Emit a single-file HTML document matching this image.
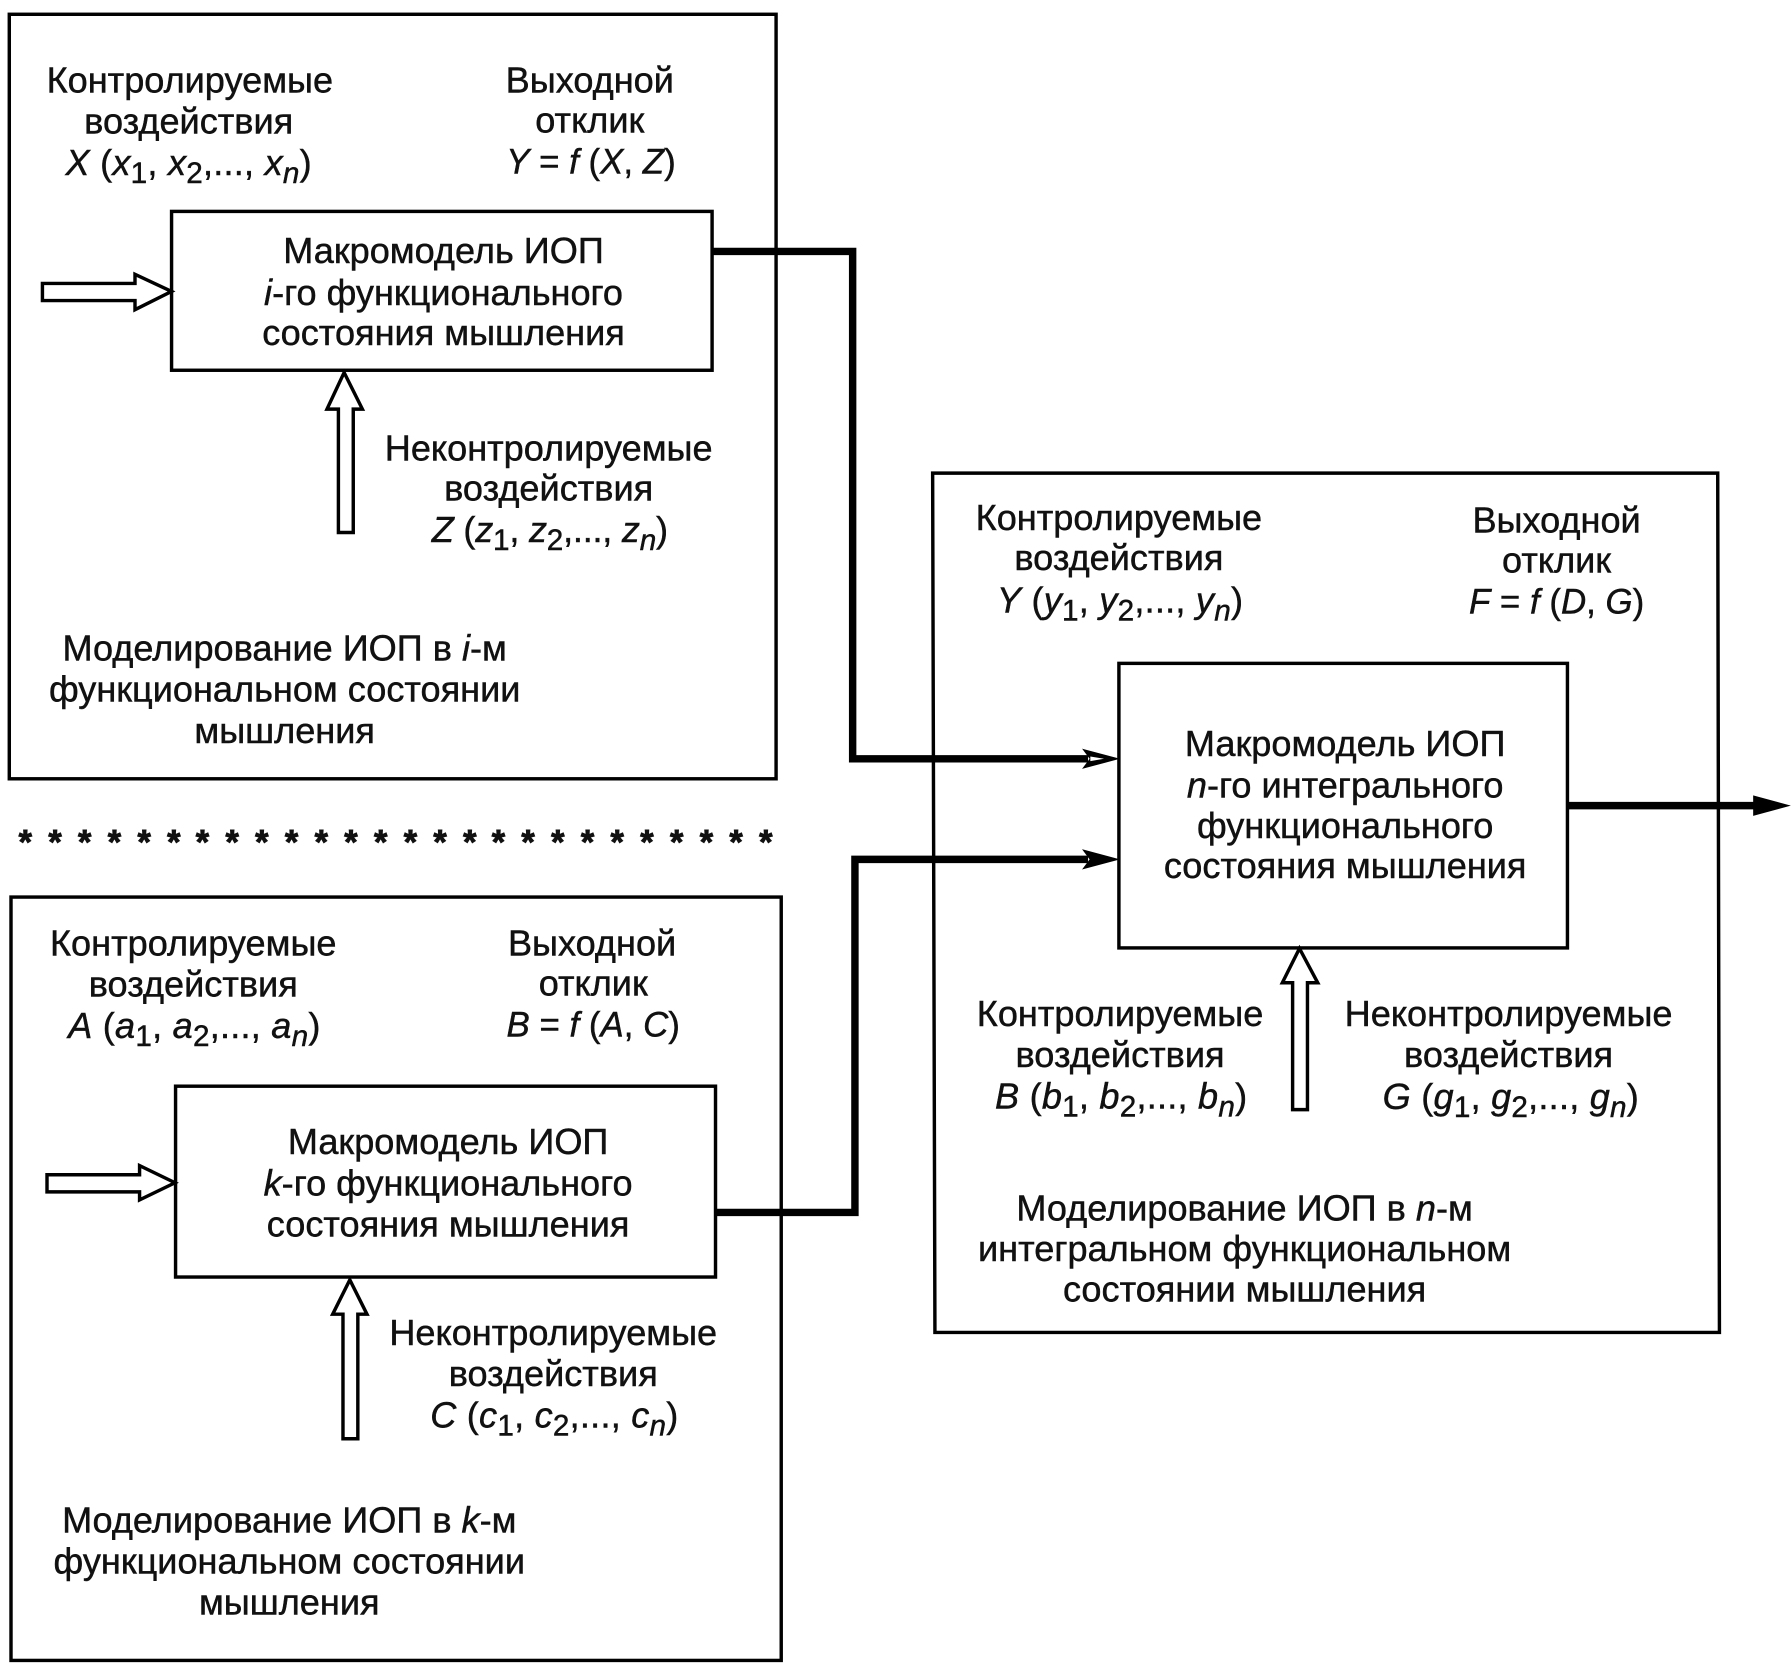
<!DOCTYPE html>
<html lang="ru"><head><meta charset="utf-8"><title>Макромодель ИОП</title>
<style>
html,body{margin:0;padding:0;background:#fff}
svg{display:block}
text{font-family:"Liberation Sans",sans-serif;font-size:31.6px;fill:#111;text-anchor:middle;stroke:#111;stroke-width:.4px}
.i{font-style:italic}
.s{font-size:26px}
.f{letter-spacing:.2px}
.z{letter-spacing:-.2px}
.g{font-size:30.5px}
.st{font-size:30px;font-weight:bold;stroke-width:.8px}
.b{fill:none;stroke:#000;stroke-width:3}
.t{fill:none;stroke:#000;stroke-width:6.5;stroke-linejoin:miter}
.h{fill:#fff;stroke:#000;stroke-width:3;stroke-linejoin:miter}
</style></head><body>
<svg xmlns="http://www.w3.org/2000/svg" width="1791" height="1665" viewBox="0 0 1567 1457">
<rect width="1567" height="1457" fill="#fff"/>
<rect class="b" x="8" y="12.500" width="671" height="669"/>
<rect class="b" x="9.500" y="785" width="674" height="668"/>
<polygon class="b" points="816,414 1503,414 1504.500,1166 818,1166"/>
<rect class="b" x="150" y="185" width="473" height="139"/>
<rect class="b" x="153.500" y="950.500" width="472.500" height="167"/>
<rect class="b" x="979" y="580.500" width="392.500" height="249"/>

<polyline class="t" points="623,220 746,220 746,664 952,664"/>
<polyline class="t" points="626,1061 748,1061 748,752 952,752"/>
<line class="t" x1="1372" y1="705" x2="1540" y2="705"/>
<polygon points="948,656 978,664 948,672 954,664" fill="#000" stroke="#000"/>
<polygon points="954,662 966,664 954,666" fill="#fff"/>
<polygon points="948,744 978,752 948,760 954,752" fill="#000" stroke="#000"/>
<polygon points="1534,696 1567,705 1534,714" fill="#000"/>

<polygon class="h" points="37,248 118,248 118,240 150,255 118,271 118,263 37,263"/>
<polygon class="h" points="41,1028 122,1028 122,1020 153,1035 122,1050 122,1043 41,1043"/>
<polygon class="h" points="296,466 296,358 286,358 301,326 317,358 309,358 309,466"/>
<polygon class="h" points="300,1259 300,1150 291,1150 306,1120 321,1150 313,1150 313,1259"/>
<polygon class="h" points="1131,971 1131,860 1122,860 1137,830 1153,860 1144,860 1144,971"/>

<!-- Box 1 -->
<text x="166" y="81">Контролируемые</text>
<text x="165" y="117">воздействия</text>
<text class="f" x="165" y="153"><tspan class="i">X</tspan> (<tspan class="i">x</tspan><tspan class="s" dy="7">1</tspan><tspan dy="-7">, </tspan><tspan class="i">x</tspan><tspan class="s" dy="7">2</tspan><tspan dy="-7">,..., </tspan><tspan class="i">x</tspan><tspan class="s i" dy="7">n</tspan><tspan dy="-7">)</tspan></text>
<text x="516" y="81">Выходной</text>
<text x="516" y="116">отклик</text>
<text class="g" x="517" y="152"><tspan class="i">Y</tspan> = <tspan class="i">f</tspan> (<tspan class="i">X</tspan>, <tspan class="i">Z</tspan>)</text>
<text x="388" y="230">Макромодель ИОП</text>
<text x="388" y="267"><tspan class="i">i</tspan>-го функционального</text>
<text x="388" y="302">состояния мышления</text>
<text x="480" y="403">Неконтролируемые</text>
<text x="480" y="438">воздействия</text>
<text class="z" x="481" y="474.500"><tspan class="i">Z</tspan> (<tspan class="i">z</tspan><tspan class="s" dy="7">1</tspan><tspan dy="-7">, </tspan><tspan class="i">z</tspan><tspan class="s" dy="7">2</tspan><tspan dy="-7">,..., </tspan><tspan class="i">z</tspan><tspan class="s i" dy="7">n</tspan><tspan dy="-7">)</tspan></text>
<text x="249" y="578">Моделирование ИОП в <tspan class="i">i</tspan>-м</text>
<text x="249" y="614">функциональном состоянии</text>
<text x="249" y="650">мышления</text>

<!-- Stars -->
<text class="st" x="22" y="747">*</text><text class="st" x="48" y="747">*</text><text class="st" x="74" y="747">*</text><text class="st" x="100" y="747">*</text><text class="st" x="126" y="747">*</text><text class="st" x="152" y="747">*</text><text class="st" x="177" y="747">*</text><text class="st" x="203" y="747">*</text><text class="st" x="229" y="747">*</text><text class="st" x="255" y="747">*</text><text class="st" x="281" y="747">*</text><text class="st" x="307" y="747">*</text><text class="st" x="333" y="747">*</text><text class="st" x="359" y="747">*</text><text class="st" x="385" y="747">*</text><text class="st" x="411" y="747">*</text><text class="st" x="436" y="747">*</text><text class="st" x="462" y="747">*</text><text class="st" x="488" y="747">*</text><text class="st" x="514" y="747">*</text><text class="st" x="540" y="747">*</text><text class="st" x="566" y="747">*</text><text class="st" x="592" y="747">*</text><text class="st" x="618" y="747">*</text><text class="st" x="644" y="747">*</text><text class="st" x="670" y="747">*</text>

<!-- Box 2 -->
<text x="169" y="836">Контролируемые</text>
<text x="169" y="872">воздействия</text>
<text class="f" x="170" y="908.500"><tspan class="i">A</tspan> (<tspan class="i">a</tspan><tspan class="s" dy="7">1</tspan><tspan dy="-7">, </tspan><tspan class="i">a</tspan><tspan class="s" dy="7">2</tspan><tspan dy="-7">,..., </tspan><tspan class="i">a</tspan><tspan class="s i" dy="7">n</tspan><tspan dy="-7">)</tspan></text>
<text x="518" y="836">Выходной</text>
<text x="519" y="871">отклик</text>
<text class="g" x="519" y="907"><tspan class="i">B</tspan> = <tspan class="i">f</tspan> (<tspan class="i">A</tspan>, <tspan class="i">C</tspan>)</text>
<text x="392" y="1010">Макромодель ИОП</text>
<text x="392" y="1046"><tspan class="i">k</tspan>-го функционального</text>
<text x="392" y="1082">состояния мышления</text>
<text x="484" y="1177">Неконтролируемые</text>
<text x="484" y="1213">воздействия</text>
<text class="f" x="485" y="1249"><tspan class="i">C</tspan> (<tspan class="i">c</tspan><tspan class="s" dy="7">1</tspan><tspan dy="-7">, </tspan><tspan class="i">c</tspan><tspan class="s" dy="7">2</tspan><tspan dy="-7">,..., </tspan><tspan class="i">c</tspan><tspan class="s i" dy="7">n</tspan><tspan dy="-7">)</tspan></text>
<text x="253" y="1341">Моделирование ИОП в <tspan class="i">k</tspan>-м</text>
<text x="253" y="1377">функциональном состоянии</text>
<text x="253" y="1413">мышления</text>

<!-- Box 3 -->
<text x="979" y="464">Контролируемые</text>
<text x="979" y="499">воздействия</text>
<text class="f" x="980" y="536"><tspan class="i">Y</tspan> (<tspan class="i">y</tspan><tspan class="s" dy="7">1</tspan><tspan dy="-7">, </tspan><tspan class="i">y</tspan><tspan class="s" dy="7">2</tspan><tspan dy="-7">,..., </tspan><tspan class="i">y</tspan><tspan class="s i" dy="7">n</tspan><tspan dy="-7">)</tspan></text>
<text x="1362" y="466">Выходной</text>
<text x="1362" y="501">отклик</text>
<text class="g" x="1362" y="537"><tspan class="i">F</tspan> = <tspan class="i">f</tspan> (<tspan class="i">D</tspan>, <tspan class="i">G</tspan>)</text>
<text x="1177" y="661.500">Макромодель ИОП</text>
<text x="1177" y="698"><tspan class="i">n</tspan>-го интегрального</text>
<text x="1177" y="733.500">функционального</text>
<text x="1177" y="768.500">состояния мышления</text>
<text x="980" y="898">Контролируемые</text>
<text x="980" y="933.500">воздействия</text>
<text class="f" x="981" y="970"><tspan class="i">B</tspan> (<tspan class="i">b</tspan><tspan class="s" dy="7">1</tspan><tspan dy="-7">, </tspan><tspan class="i">b</tspan><tspan class="s" dy="7">2</tspan><tspan dy="-7">,..., </tspan><tspan class="i">b</tspan><tspan class="s i" dy="7">n</tspan><tspan dy="-7">)</tspan></text>
<text x="1320" y="898">Неконтролируемые</text>
<text x="1320" y="933.500">воздействия</text>
<text class="f" x="1322" y="970.500"><tspan class="i">G</tspan> (<tspan class="i">g</tspan><tspan class="s" dy="7">1</tspan><tspan dy="-7">, </tspan><tspan class="i">g</tspan><tspan class="s" dy="7">2</tspan><tspan dy="-7">,..., </tspan><tspan class="i">g</tspan><tspan class="s i" dy="7">n</tspan><tspan dy="-7">)</tspan></text>
<text x="1089" y="1068">Моделирование ИОП в <tspan class="i">n</tspan>-м</text>
<text x="1089" y="1103.500">интегральном функциональном</text>
<text x="1089" y="1139">состоянии мышления</text>
</svg>
</body></html>
